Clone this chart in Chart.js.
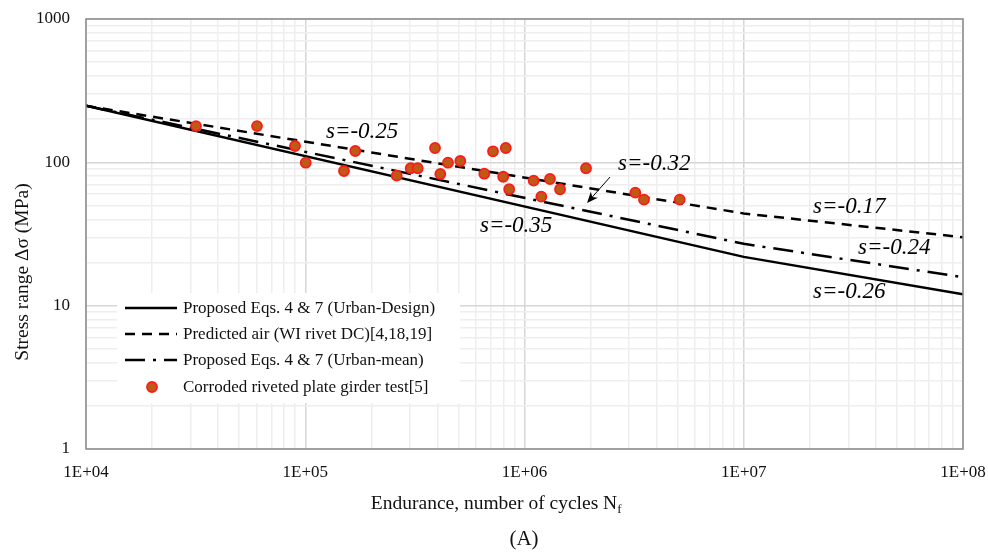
<!DOCTYPE html>
<html>
<head>
<meta charset="utf-8">
<script src="https://cdn.jsdelivr.net/npm/chart.js@4.4.1/dist/chart.umd.min.js"></script>
<style>
  html, body { margin: 0; padding: 0; background: #fff; }
  #wrap { width: 988px; height: 552px; }
</style>
</head>
<body>
<div id="wrap"><canvas id="snChart" width="988" height="552"></canvas></div>
<script>
// S-N curves, stress range (MPa) at the curve knots
var lineCycles = [1e4, 1e7, 1e8];
var designStress = [248, 21.9, 12.0];  // Urban-Design
var airStress = [248, 44, 30];         // WI rivet DC
var meanStress = [248, 27, 15.8];      // Urban-mean

// corroded riveted plate girder tests [5]
var testCycles = [31750, 60250, 89800, 100500, 150200, 169100, 261300, 302700, 325800, 390700,
                  413000, 447800, 509600, 655600, 718300, 799400, 821600, 851500, 1101000, 1193000,
                  1307000, 1452000, 1908000, 3202000, 3508000, 5104000];
var testStress = [179, 179, 130, 99.4, 87, 120, 80.7, 90.9, 90.9, 125.9,
                  82.9, 99.4, 102.2, 83.3, 119.4, 79.3, 125.9, 64.9, 74.5, 57.6,
                  76.5, 64.9, 90.9, 61.4, 54.9, 54.9];

var xTicks = [1e4, 1e5, 1e6, 1e7, 1e8];
var xTickLabels = ['1E+04', '1E+05', '1E+06', '1E+07', '1E+08'];
var yTicks = [1, 10, 100, 1000];
var yTickLabels = ['1', '10', '100', '1000'];

var seriesNames = ['Proposed Eqs. 4 & 7 (Urban-Design)', 'Predicted air (WI rivet DC)[4,18,19]',
                   'Proposed Eqs. 4 & 7 (Urban-mean)', 'Corroded riveted plate girder test[5]'];

// slope notes, placed in data units (left edge, baseline)
var slopeNotes = [
    { text: 's=-0.25', n: 124300, s: 148 },
    { text: 's=-0.35', n: 626600, s: 32.7 },
    { text: 's=-0.32', n: 2670000, s: 88.4 },
    { text: 's=-0.17', n: 20700000, s: 44.3 },
    { text: 's=-0.24', n: 33200000, s: 22.9 },
    { text: 's=-0.26', n: 20700000, s: 11.3 }
];
var arrowFrom = { n: 2455000, s: 79 };
var arrowTo = { n: 1928000, s: 52 };

var serif = "'Liberation Serif', 'Times New Roman', serif";
var dashAir = [10, 7];
var dashMean = [20, 8, 3, 8];

function toPoints(xs, ys) {
    return xs.map(function (x, i) { return { x: x, y: ys[i] }; });
}

function minorTicks(majors) {
    var out = [];
    for (var i = 0; i < majors.length - 1; i++) {
        for (var m = 1; m < 10; m++) out.push({ value: m * majors[i] });
    }
    out.push({ value: majors[majors.length - 1] });
    return out;
}

function gridColor(majors) {
    return function (ctx) {
        return ctx.tick && majors.indexOf(ctx.tick.value) >= 0 ? '#d6d6d6' : '#eeeeee';
    };
}

// the frame is fixed by layout.padding, so drop the label overflow padding
function noOverflow(scale) {
    scale.paddingLeft = 0;
    scale.paddingRight = 0;
    scale.paddingTop = 0;
    scale.paddingBottom = 0;
}

var decorations = {
    id: 'decorations',
    afterDraw: function (chart) {
        var ctx = chart.ctx;
        var a = chart.chartArea;
        var xs = chart.scales.x, ys = chart.scales.y;
        ctx.save();

        // plot frame
        ctx.strokeStyle = '#8c8c8c';
        ctx.lineWidth = 1.5;
        ctx.setLineDash([]);
        ctx.strokeRect(a.left, a.top, a.right - a.left, a.bottom - a.top);

        // legend box
        var lx = 117, ly = 293;
        ctx.fillStyle = '#fff';
        ctx.fillRect(lx, ly, 343, 110);
        ctx.font = '17px ' + serif;
        ctx.textBaseline = 'middle';
        ctx.textAlign = 'left';
        var rows = [308, 334, 360, 387];
        var dashes = [[], dashAir, dashMean];
        for (var i = 0; i < 3; i++) {
            ctx.beginPath();
            ctx.setLineDash(dashes[i]);
            ctx.strokeStyle = '#000';
            ctx.lineWidth = 2.5;
            ctx.moveTo(125, rows[i]);
            ctx.lineTo(177, rows[i]);
            ctx.stroke();
        }
        ctx.setLineDash([]);
        ctx.beginPath();
        ctx.arc(152, rows[3], 5, 0, Math.PI * 2);
        ctx.fillStyle = '#bf5a16';
        ctx.fill();
        ctx.strokeStyle = '#ff1a1a';
        ctx.lineWidth = 1.8;
        ctx.stroke();
        ctx.fillStyle = '#111';
        for (var j = 0; j < seriesNames.length; j++) {
            ctx.fillText(seriesNames[j], 183, rows[j] + 1);
        }

        // slope notes
        ctx.font = 'italic 23px ' + serif;
        ctx.textBaseline = 'alphabetic';
        ctx.fillStyle = '#000';
        slopeNotes.forEach(function (note) {
            ctx.fillText(note.text, xs.getPixelForValue(note.n), ys.getPixelForValue(note.s));
        });

        // arrow to the Urban-mean curve
        var x1 = xs.getPixelForValue(arrowFrom.n), y1 = ys.getPixelForValue(arrowFrom.s);
        var x2 = xs.getPixelForValue(arrowTo.n), y2 = ys.getPixelForValue(arrowTo.s);
        var ang = Math.atan2(y2 - y1, x2 - x1);
        ctx.strokeStyle = '#000';
        ctx.lineWidth = 1;
        ctx.beginPath();
        ctx.moveTo(x1, y1);
        ctx.lineTo(x2 - 8 * Math.cos(ang), y2 - 8 * Math.sin(ang));
        ctx.stroke();
        ctx.beginPath();
        ctx.moveTo(x2, y2);
        ctx.lineTo(x2 - 12 * Math.cos(ang - 0.4), y2 - 12 * Math.sin(ang - 0.4));
        ctx.lineTo(x2 - 8 * Math.cos(ang), y2 - 8 * Math.sin(ang));
        ctx.lineTo(x2 - 12 * Math.cos(ang + 0.4), y2 - 12 * Math.sin(ang + 0.4));
        ctx.closePath();
        ctx.fillStyle = '#000';
        ctx.fill();

        // axis titles
        ctx.fillStyle = '#111';
        ctx.font = '19.5px ' + serif;
        ctx.textAlign = 'center';
        ctx.textBaseline = 'middle';
        ctx.save();
        ctx.translate(23, 272);
        ctx.rotate(-Math.PI / 2);
        ctx.fillText('Stress range \u0394\u03c3 (MPa)', 0, 0);
        ctx.restore();

        var main = 'Endurance, number of cycles N';
        ctx.textAlign = 'left';
        ctx.textBaseline = 'alphabetic';
        var w = ctx.measureText(main).width;
        var tx = 497 - (w + 6) / 2;
        ctx.fillText(main, tx, 509);
        ctx.font = '13px ' + serif;
        ctx.fillText('f', tx + w, 513);

        ctx.font = '21px ' + serif;
        ctx.textAlign = 'center';
        ctx.fillText('(A)', 524, 545);
        ctx.restore();
    }
};

var chart = new Chart(document.getElementById('snChart').getContext('2d'), {
    type: 'scatter',
    data: {
        datasets: [{
            label: seriesNames[0],
            data: toPoints(lineCycles, designStress),
            showLine: true,
            borderColor: '#000',
            borderWidth: 2.5,
            pointRadius: 0,
            order: 3
        }, {
            label: seriesNames[1],
            data: toPoints(lineCycles, airStress),
            showLine: true,
            borderColor: '#000',
            borderWidth: 2.5,
            borderDash: dashAir,
            pointRadius: 0,
            order: 2
        }, {
            label: seriesNames[2],
            data: toPoints(lineCycles, meanStress),
            showLine: true,
            borderColor: '#000',
            borderWidth: 2.5,
            borderDash: dashMean,
            pointRadius: 0,
            order: 1
        }, {
            label: seriesNames[3],
            data: toPoints(testCycles, testStress),
            showLine: false,
            pointRadius: 5,
            pointBorderWidth: 1.8,
            backgroundColor: '#bf5a16',
            borderColor: '#ff1a1a',
            order: 0
        }]
    },
    options: {
        responsive: false,
        devicePixelRatio: 1,
        animation: false,
        layout: { padding: { top: 19, right: 25, left: 0, bottom: 0 } },
        plugins: {
            legend: { display: false },
            tooltip: { enabled: false }
        },
        scales: {
            x: {
                type: 'logarithmic',
                min: 1e4,
                max: 1e8,
                afterBuildTicks: function (scale) { scale.ticks = minorTicks(xTicks); },
                afterFit: function (scale) { scale.height = 103; noOverflow(scale); },
                border: { display: false },
                grid: { color: gridColor(xTicks), lineWidth: 1.5, drawTicks: false },
                ticks: {
                    autoSkip: false,
                    maxRotation: 0,
                    padding: 13,
                    color: '#111',
                    font: { family: serif, size: 17 },
                    callback: function (v) {
                        var i = xTicks.indexOf(v);
                        return i >= 0 ? xTickLabels[i] : '';
                    }
                }
            },
            y: {
                type: 'logarithmic',
                min: 1,
                max: 1000,
                afterBuildTicks: function (scale) { scale.ticks = minorTicks(yTicks); },
                afterFit: function (scale) { scale.width = 86; noOverflow(scale); },
                border: { display: false },
                grid: { color: gridColor(yTicks), lineWidth: 1.5, drawTicks: false },
                ticks: {
                    autoSkip: false,
                    padding: 16,
                    color: '#111',
                    font: { family: serif, size: 17 },
                    callback: function (v) {
                        var i = yTicks.indexOf(v);
                        return i >= 0 ? yTickLabels[i] : '';
                    }
                }
            }
        }
    },
    plugins: [decorations]
});
</script>
</body>
</html>
